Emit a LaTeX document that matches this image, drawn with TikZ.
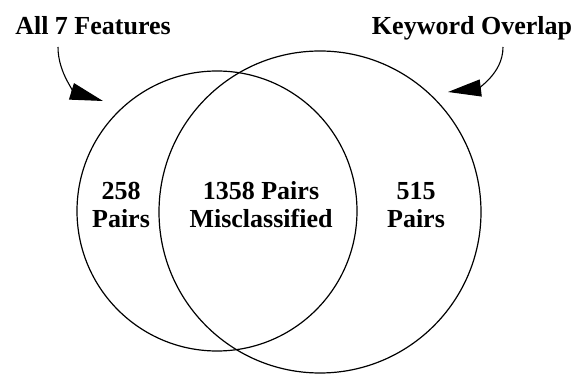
\documentclass[tikz,border=0pt]{standalone}
\usepackage{fontspec}
\setmainfont{Liberation Serif}
\usepackage{tikz}
\usetikzlibrary{arrows.meta,shapes}

\begin{document}
\begin{tikzpicture}[x=1pt,y=1pt,
  set/.style={draw,circle,line width=1.2pt,inner sep=0pt},
  lbl/.style={font=\fontsize{26}{28}\selectfont\bfseries,align=center,inner sep=0pt,anchor=base},
  bigarrow/.style={line width=1.1pt,-{Triangle[length=33pt,width=17pt]}}]
\useasboundingbox (0,0) rectangle (576,375);
% the two sets
\node [set,minimum size=280pt] (feat) at (217,164) {};
\node [set,minimum size=322pt] (kw) at (320,163) {};
% set names
\node [lbl] (featLbl) at (93,340) {All 7 Features};
\node [lbl] (kwLbl) at (472,340) {Keyword Overlap};
\coordinate (featTip) at (103,274);
\coordinate (kwTip) at (448,283);
\draw [bigarrow] ([xshift=-35pt,yshift=-12pt]featLbl.base) to[out=-90,in=163] (featTip);
\draw [bigarrow] ([xshift=31pt,yshift=-12pt]kwLbl.base) to[out=-90,in=7] (kwTip);
% counts (base is the second line)
\node [lbl] (onlyFeat) at (121,147) {258\\Pairs};
\node [lbl] (both) at (261,147) {1358 Pairs\\Misclassified};
\node [lbl] (onlyKw) at (416,147) {515\\Pairs};
\end{tikzpicture}
\end{document}
